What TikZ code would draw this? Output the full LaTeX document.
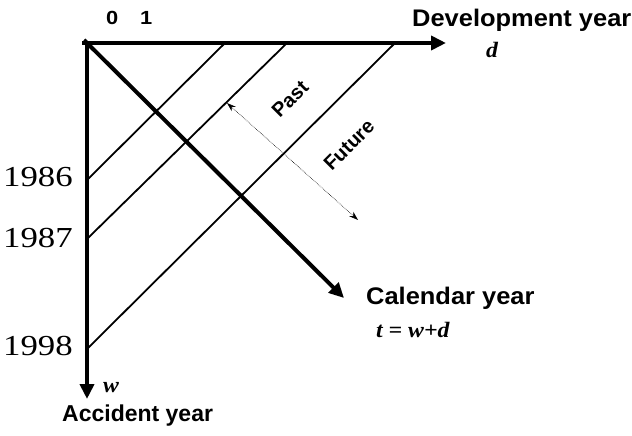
\documentclass[tikz,border=0pt]{standalone}
\usepackage{fontspec}
\setmainfont{Liberation Serif}
\newfontfamily\arialfont{Liberation Sans}
\newfontfamily\arialwide[FakeStretch=1.06]{Liberation Sans}
\newfontfamily\arialnum[FakeStretch=1.15]{Liberation Sans}
\newfontfamily\timeswide[FakeStretch=1.2]{Liberation Serif}
\newfontfamily\timesmath[FakeStretch=1.08]{Liberation Serif}
\usetikzlibrary{arrows.meta}
\tikzset{
  axis/.style={line width=4pt,-{Triangle[length=15pt,width=14pt]}},
  grid line/.style={line width=1.8pt},
  dotarrow/.style={line width=0.6pt,densely dotted,{Stealth[length=9pt,width=6pt]}-{Stealth[length=9pt,width=6pt]}},
  bigtxt/.style={inner sep=0pt,font=\arialfont\bfseries\fontsize{23}{27}\selectfont},
  widetxt/.style={inner sep=0pt,font=\arialwide\bfseries\fontsize{24}{28}\selectfont},
  numtxt/.style={inner sep=0pt,font=\arialnum\bfseries\fontsize{19}{22}\selectfont},
  midtxt/.style={inner sep=0pt,font=\arialfont\bfseries\fontsize{20}{24}\selectfont},
  yeartxt/.style={inner sep=0pt,font=\timeswide\fontsize{29}{33}\selectfont},
  mathtxt/.style={inner sep=0pt,font=\timesmath\bfseries\itshape\fontsize{22}{26}\selectfont}
}
\begin{document}
\begin{tikzpicture}[x=1pt,y=-1pt]
\useasboundingbox (0,0) rectangle (632,436);
% coordinates
\coordinate (O) at (87,43);
\coordinate (Oh) at (82,43);
\coordinate (Od) at (84,40);
\coordinate (Dend) at (446,43);
\coordinate (Wend) at (87,399);
\coordinate (Cend) at (344,298);
\coordinate (a1) at (87,180);
\coordinate (a2) at (225,43);
\coordinate (b1) at (87,239);
\coordinate (b2) at (287,43);
\coordinate (c1) at (87,349);
\coordinate (c2) at (395,43);
\coordinate (p1) at (227,103);
\coordinate (p2) at (358,220);
% grid lines
\draw[grid line] (a1) -- (a2);
\draw[grid line] (b1) -- (b2);
\draw[grid line] (c1) -- (c2);
% axes
\draw[axis] (Oh) -- (Dend);
\draw[axis] (O) -- (Wend);
\draw[axis] (Od) -- (Cend);
% past/future arrow
\draw[dotarrow] (p1) -- (p2);
% labels
\node[numtxt,anchor=base west] (zero) at (106,25) {0};
\node[numtxt,anchor=base west] (one) at (140,25) {1};
\node[widetxt,anchor=base west] (dev) at (412,27) {Development year};
\node[mathtxt,anchor=base west] (d) at (486,58) {d};
\node[midtxt,rotate=45] (past) at (290,99) {Past};
\node[midtxt,rotate=45] (future) at (349,145) {Future};
\node[widetxt,anchor=base west] (cal) at (366,304) {Calendar year};
\node[mathtxt,anchor=base west] (t) at (376,337) {t = w+d};
\node[yeartxt,anchor=base east] (y86) at (73,186) {1986};
\node[yeartxt,anchor=base east] (y87) at (73,247) {1987};
\node[yeartxt,anchor=base east] (y98) at (73,355) {1998};
\node[mathtxt,anchor=base west] (w) at (103,392) {w};
\node[bigtxt,anchor=base west] (acc) at (62,421) {Accident year};
\end{tikzpicture}
\end{document}
